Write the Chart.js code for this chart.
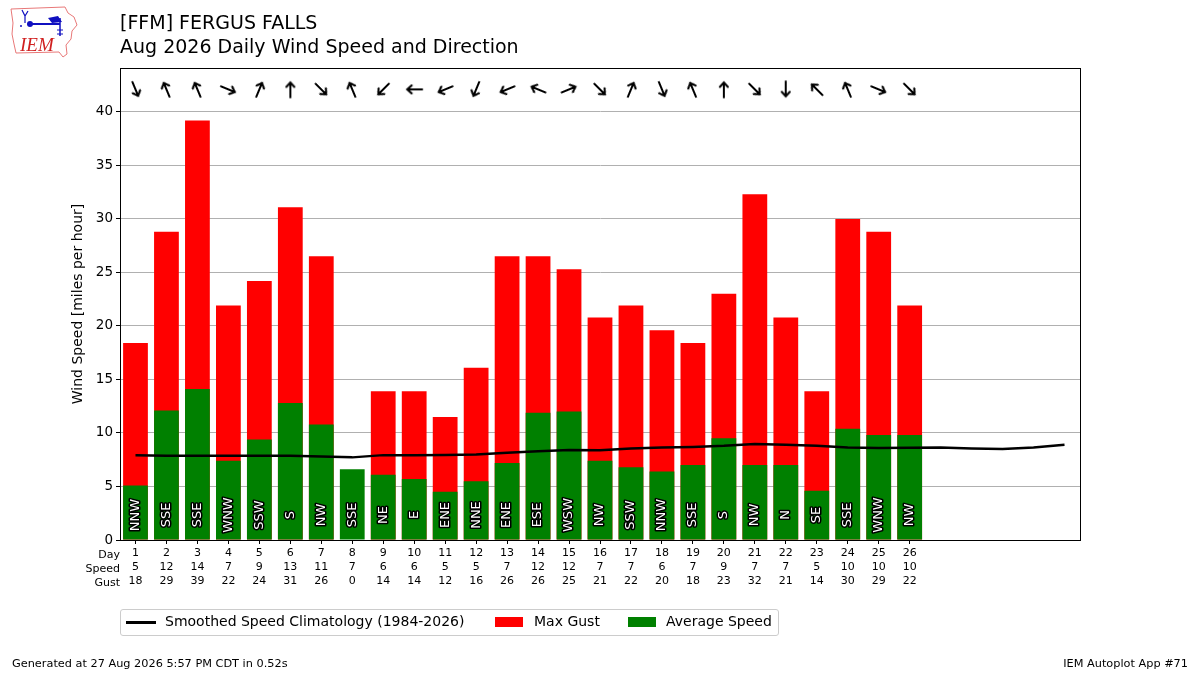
<!DOCTYPE html>
<html>
<head>
<meta charset="utf-8">
<script src="https://cdn.jsdelivr.net/npm/chart.js@4/dist/chart.umd.min.js"></script>
<style>
  body { margin: 0; background: #fff; font-family: "DejaVu Sans", sans-serif; }
  #wrap { position: relative; width: 1200px; height: 675px; overflow: hidden; }
  #c { position: absolute; left: 0; top: 0; }
  .t { position: absolute; color: #000; white-space: nowrap; }
  #legend { position: absolute; left: 120px; top: 609px; width: 657px; height: 25px;
    border: 1px solid #ccc; border-radius: 3px; font-size: 14px; }
  #legend span { position: absolute; top: 3px; }
  #legend i { position: absolute; display: block; }
</style>
</head>
<body>
<div id="wrap">
  <canvas id="c" width="1200" height="675"></canvas>
  <svg style="position:absolute;left:8px;top:4px" width="74" height="56" viewBox="0 0 74 56">
    <path d="M3 5 L57 3 L60 9 L66 13 L69 21 L64 27 L63 35 L58 41 L59 50 L55 53 L51 48 L8 49 L6 40 L4 30 L5 19 Z"
      fill="none" stroke="#e87878" stroke-width="1"/>
    <line x1="22" y1="20" x2="52" y2="20" stroke="#1010c0" stroke-width="2"/>
    <circle cx="22" cy="20" r="3" fill="#1010c0"/>
    <path d="M40 14 L50 12 L54 18 L44 19 Z" fill="#1010c0"/>
    <line x1="52" y1="14" x2="52" y2="32" stroke="#1010c0" stroke-width="1.5"/>
    <path d="M49 26 L55 26 M49 30 L55 30" stroke="#1010c0" stroke-width="1"/>
    <path d="M14 6 L17 12 L20 7 M17 12 L17 19" stroke="#1010c0" stroke-width="1.2" fill="none"/>
    <circle cx="13" cy="22" r="1" fill="#1010c0"/>
    <text x="12" y="47" font-family="Liberation Serif, serif" font-style="italic" font-size="19" fill="#d02020">IEM</text>
  </svg>
  <div class="t" style="left:120px;top:11px;font-size:19px;">[FFM] FERGUS FALLS</div>
  <div class="t" style="left:120px;top:35px;font-size:19px;">Aug 2026 Daily Wind Speed and Direction</div>
  <div id="legend">
    <i style="left:5px;top:11px;width:30px;height:3px;background:#000"></i>
    <span style="left:44px">Smoothed Speed Climatology (1984-2026)</span>
    <i style="left:374px;top:7px;width:28px;height:10px;background:#ff0000"></i>
    <span style="left:413px">Max Gust</span>
    <i style="left:507px;top:7px;width:28px;height:10px;background:#008000"></i>
    <span style="left:545px">Average Speed</span>
  </div>
  <div class="t" style="left:12px;top:657px;font-size:11.3px;">Generated at 27 Aug 2026 5:57 PM CDT in 0.52s</div>
  <div class="t" style="right:12px;top:657px;font-size:11.3px;">IEM Autoplot App #71</div>
</div>
<script>
// observed days
var days = [1, 2, 3, 4, 5, 6, 7, 8, 9, 10, 11, 12, 13, 14, 15, 16, 17, 18, 19, 20, 21, 22, 23, 24, 25, 26];
var avgSpeed = [5.1, 12.1, 14.1, 7.4, 9.4, 12.8, 10.8, 6.6, 6.1, 5.7, 4.5, 5.5, 7.2, 11.9, 12.0,
  7.4, 6.8, 6.4, 7.0, 9.5, 7.0, 7.0, 4.6, 10.4, 9.8, 9.8];
var maxGust = [18.4, 28.8, 39.2, 21.9, 24.2, 31.1, 26.5, 0, 13.9, 13.9, 11.5, 16.1, 26.5, 26.5, 25.3,
  20.8, 21.9, 19.6, 18.4, 23.0, 32.3, 20.8, 13.9, 30.0, 28.8, 21.9];
var dirLabels = ['NNW', 'SSE', 'SSE', 'WNW', 'SSW', 'S', 'NW', 'SSE', 'NE', 'E', 'ENE', 'NNE', 'ENE', 'ESE', 'WSW',
  'NW', 'SSW', 'NNW', 'SSE', 'S', 'NW', 'N', 'SE', 'SSE', 'WNW', 'NW'];
// table rows under the axis (rounded)
var speedRow = [5, 12, 14, 7, 9, 13, 11, 7, 6, 6, 5, 5, 7, 12, 12, 7, 7, 6, 7, 9, 7, 7, 5, 10, 10, 10];
var gustRow = [18, 29, 39, 22, 24, 31, 26, 0, 14, 14, 12, 16, 26, 26, 25, 21, 22, 20, 18, 23, 32, 21, 14, 30, 29, 22];
// climatology covers whole month
var climoDays = [1, 2, 3, 4, 5, 6, 7, 8, 9, 10, 11, 12, 13, 14, 15, 16, 17, 18, 19, 20, 21, 22, 23, 24, 25, 26, 27, 28, 29, 30, 31];
var climo = [7.93, 7.88, 7.87, 7.87, 7.88, 7.88, 7.8, 7.72, 7.93, 7.93, 7.95, 8.0, 8.15, 8.3, 8.4,
  8.38, 8.55, 8.65, 8.7, 8.8, 8.98, 8.9, 8.8, 8.65, 8.6, 8.62, 8.65, 8.55, 8.5, 8.65, 8.9];
var yTicks = [0, 5, 10, 15, 20, 25, 30, 35, 40];
var compass = ['N', 'NNE', 'NE', 'ENE', 'E', 'ESE', 'SE', 'SSE', 'S', 'SSW', 'SW', 'WSW', 'W', 'WNW', 'NW', 'NNW'];

// arrow glyph, pointing up; rotated per day to where the wind blows
var arrow = document.createElement('canvas');
arrow.width = 20; arrow.height = 20;
var a = arrow.getContext('2d');
a.strokeStyle = '#000'; a.lineWidth = 2; a.lineCap = 'round';
a.beginPath();
a.moveTo(10, 18); a.lineTo(10, 3);
a.moveTo(6, 7.5); a.lineTo(10, 3); a.lineTo(14, 7.5);
a.stroke();

var arrowRot = dirLabels.map(function (d) { return (compass.indexOf(d) * 22.5 + 180) % 360; });

var extras = {
  id: 'extras',
  afterDatasetsDraw: function (chart) {
    var ctx = chart.ctx, x = chart.scales.x;
    ctx.save();
    ctx.font = '13px "DejaVu Sans"';
    ctx.textAlign = 'center';
    ctx.textBaseline = 'middle';
    ctx.lineJoin = 'round';
    days.forEach(function (d, i) {
      ctx.save();
      ctx.translate(x.getPixelForValue(d), 515);
      ctx.rotate(-Math.PI / 2);
      ctx.lineWidth = 3;
      ctx.strokeStyle = '#000';
      ctx.strokeText(dirLabels[i], 0, 0);
      ctx.fillStyle = '#fff';
      ctx.fillText(dirLabels[i], 0, 0);
      ctx.restore();
    });
    ctx.restore();
  },
  afterDraw: function (chart) {
    var ctx = chart.ctx, ca = chart.chartArea;
    ctx.save();
    ctx.strokeStyle = '#000';
    ctx.lineWidth = 1;
    ctx.strokeRect(ca.left + 0.5, ca.top + 0.5, ca.right - ca.left, ca.bottom - ca.top);
    ctx.fillStyle = '#000';
    ctx.font = '11px "DejaVu Sans"';
    ctx.textAlign = 'right';
    ctx.textBaseline = 'middle';
    ctx.fillText('Day', ca.left, ca.bottom + 15);
    ctx.fillText('Speed', ca.left, ca.bottom + 29);
    ctx.fillText('Gust', ca.left, ca.bottom + 43);
    ctx.restore();
  }
};

var ctx = document.getElementById('c').getContext('2d');
var chart = new Chart(ctx, {
  type: 'bar',
  data: {
    datasets: [{
      type: 'line',
      label: 'Smoothed Speed Climatology (1984-2026)',
      data: climoDays.map(function (d, i) { return { x: d, y: climo[i] }; }),
      borderColor: '#000',
      borderWidth: 2.5,
      pointRadius: 0,
      tension: 0,
      order: 0
    }, {
      type: 'line',
      label: 'dir',
      data: days.map(function (d) { return { x: d, y: 42.1 }; }),
      showLine: false,
      pointStyle: arrow,
      pointRotation: arrowRot,
      pointRadius: 10,
      order: 0
    }, {
      label: 'Average Speed',
      data: days.map(function (d, i) { return { x: d, y: avgSpeed[i] }; }),
      backgroundColor: '#008000',
      grouped: false,
      barPercentage: 0.8,
      categoryPercentage: 1,
      order: 1
    }, {
      label: 'Max Gust',
      data: days.map(function (d, i) { return { x: d, y: maxGust[i] }; }),
      backgroundColor: '#ff0000',
      grouped: false,
      barPercentage: 0.8,
      categoryPercentage: 1,
      order: 2
    }]
  },
  options: {
    responsive: false,
    animation: false,
    layout: { padding: { left: 66, top: 68, right: 120, bottom: 75 } },
    plugins: { legend: { display: false }, tooltip: { enabled: false } },
    scales: {
      x: {
        type: 'linear',
        min: 0.5,
        max: 31.5,
        offset: false,
        grid: { offset: false, drawOnChartArea: false, tickLength: 4, tickColor: '#000' },
        border: { color: '#000' },
        afterBuildTicks: function (axis) { axis.ticks = days.map(function (d) { return { value: d }; }); },
        afterFit: function (axis) { axis.height = 60; },
        ticks: {
          autoSkip: false,
          maxRotation: 0,
          padding: 2,
          color: '#000',
          font: { family: 'DejaVu Sans', size: 11, lineHeight: 14 / 11 },
          callback: function (v) {
            var i = days.indexOf(v);
            return [String(v), String(speedRow[i]), String(gustRow[i])];
          }
        }
      },
      y: {
        min: 0,
        max: 44.1,
        grid: { color: '#b0b0b0', tickLength: 4, tickColor: '#000' },
        border: { color: '#000' },
        afterBuildTicks: function (axis) { axis.ticks = yTicks.map(function (v) { return { value: v }; }); },
        afterFit: function (axis) { axis.width = 54; },
        ticks: { color: '#000', padding: 3, font: { family: 'DejaVu Sans', size: 13.5 } },
        title: {
          display: true,
          text: 'Wind Speed [miles per hour]',
          color: '#000',
          padding: { top: 4, bottom: 0 },
          font: { family: 'DejaVu Sans', size: 14 }
        }
      }
    }
  },
  plugins: [extras]
});
</script>
</body>
</html>
